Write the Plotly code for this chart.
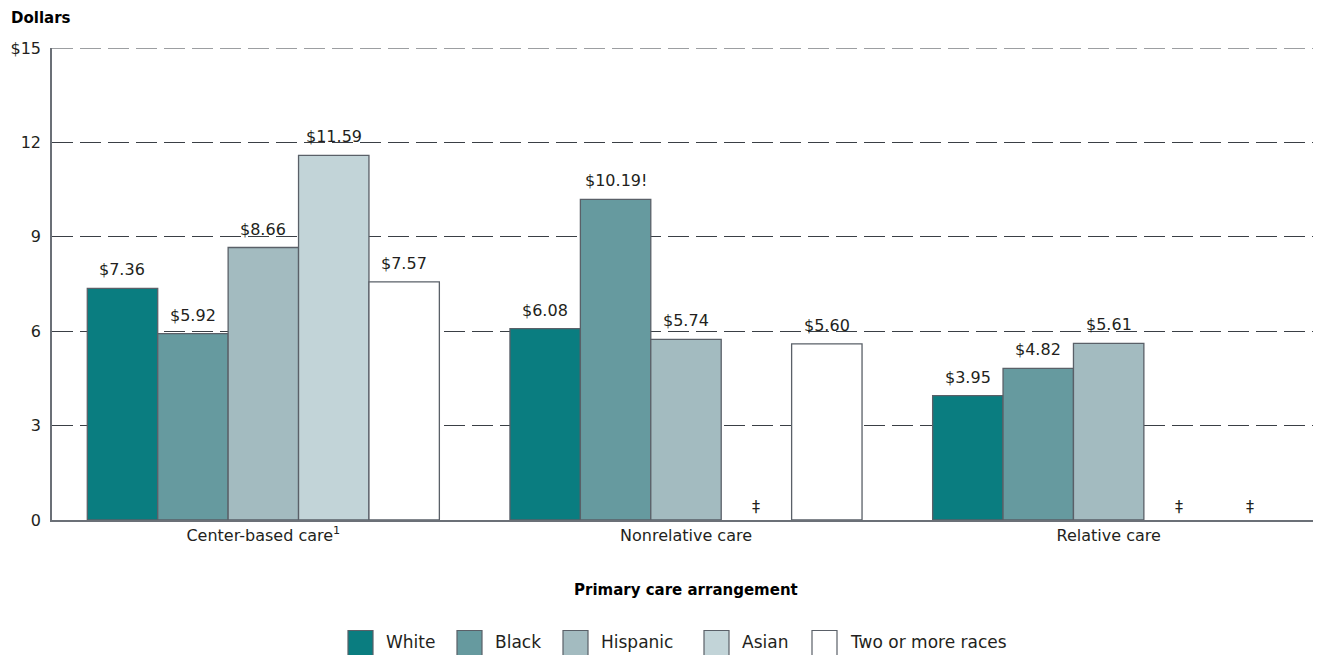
import plotly.graph_objects as go

categories = ["Center-based care<sup>1</sup>", "Nonrelative care", "Relative care"]
series_names = ["White", "Black", "Hispanic", "Asian", "Two or more races"]
white = [7.36, 6.08, 3.95]
black = [5.92, 10.19, 4.82]
hispanic = [8.66, 5.74, 5.61]
asian = [11.59, None, None]
two_more = [7.57, 5.60, None]
flags = {("Black", 1): "!"}  # reporting-standard flag
y_tickvals = [0, 3, 6, 9, 12, 15]
y_ticktext = ["0", "3", "6", "9", "12", "$15"]
y_max = 15

colors = ["#0a7d80", "#669a9f", "#a3bbc0", "#c2d4d8", "#ffffff"]
outline = "#5a6068"
grid_color = "#3a3f45"
grid_dash = "21px,7px"
font_family = "'DejaVu Sans', sans-serif"
text_color = "#231f20"

# page layout (the browser body adds an 8px offset)
W, H = 1313, 647
ML, MR, MT, MB = 44, 1, 40, 135
PW, PH = W - ML - MR, H - MT - MB
OFF = 8
BARGAP = 0.167
n_series = len(series_names)
bar_px = PW / len(categories) * (1 - BARGAP) / n_series


def px_x(X):
    return (X - OFF - ML) / PW


def px_y(Y):
    return 1 - (Y - OFF - MT) / PH


fig = go.Figure()
all_vals = [white, black, hispanic, asian, two_more]
for si, (name, vals, col) in enumerate(zip(series_names, all_vals, colors)):
    fig.add_trace(go.Bar(
        name=name, x=categories, y=vals,
        marker=dict(color=col, line=dict(color=outline, width=1.3)),
        hoverinfo="skip", showlegend=False,
    ))
    for ci, v in enumerate(vals):
        if v is None:
            txt, yv, ys = "‡", 0, 2
        else:
            txt, yv, ys = "$%.2f%s" % (v, flags.get((name, ci), "")), v, 7
        fig.add_annotation(x=categories[ci], y=yv, xref="x", yref="y",
                           text=txt, showarrow=False, yanchor="bottom",
                           xshift=(si - (n_series - 1) / 2) * bar_px, yshift=ys,
                           font=dict(size=16, color=text_color, family=font_family))

fig.update_layout(
    width=W, height=H,
    barmode="group", bargap=BARGAP, bargroupgap=0,
    plot_bgcolor="white", paper_bgcolor="white",
    margin=dict(l=ML, r=MR, t=MT, b=MB),
    font=dict(family=font_family, size=16, color=text_color),
    showlegend=False,
)
fig.update_xaxes(showline=True, linecolor="#6b7077", linewidth=1.5, ticks="",
                 tickfont=dict(size=16, color=text_color), showgrid=False)
fig.update_yaxes(range=[0, y_max], tickvals=y_tickvals, ticktext=y_ticktext,
                 showline=True, linecolor="#6b7077", linewidth=1.5,
                 showgrid=True, gridcolor=grid_color, gridwidth=1.1, griddash=grid_dash,
                 zeroline=False, ticks="", ticklabelstandoff=6,
                 tickfont=dict(size=16, color=text_color))

# top gridline (plotly skips the grid line at the range edge)
fig.add_shape(type="line", xref="paper", yref="y", x0=0, x1=1, y0=y_max, y1=y_max,
              line=dict(color=grid_color, width=1.1, dash=grid_dash), layer="below")

fig.add_annotation(text="<b>Dollars</b>", xref="paper", yref="paper",
                   x=px_x(9), y=px_y(18), xanchor="left", yanchor="middle",
                   showarrow=False, font=dict(size=15, color="#000000"))
fig.add_annotation(text="<b>Primary care arrangement</b>", xref="paper", yref="paper",
                   x=0.5, y=px_y(590), xanchor="center", yanchor="middle",
                   showarrow=False, font=dict(size=15, color="#000000"))

# manual legend: large swatches like the reference
legend_swatch_x = [348, 457, 563, 704, 812]
swatch = 25
leg_y = 643
for name, col, sx in zip(series_names, colors, legend_swatch_x):
    fig.add_shape(type="rect", xref="paper", yref="paper",
                  x0=px_x(sx), x1=px_x(sx + swatch),
                  y0=px_y(leg_y + swatch / 2), y1=px_y(leg_y - swatch / 2),
                  fillcolor=col, line=dict(color=outline, width=1.2), layer="above")
    fig.add_annotation(text=name, xref="paper", yref="paper",
                       x=px_x(sx + swatch + 11), y=px_y(leg_y - 1),
                       xanchor="left", yanchor="middle", showarrow=False,
                       font=dict(size=17, color=text_color, family=font_family))

fig.write_html("out.html")
